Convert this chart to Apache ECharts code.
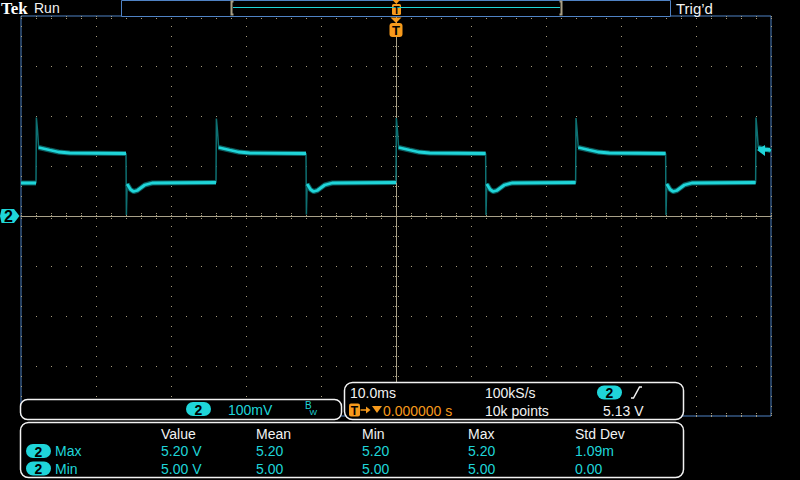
<!DOCTYPE html>
<html>
<head>
<meta charset="utf-8">
<title>CH2 ripple</title>
<script src="https://cdn.jsdelivr.net/npm/echarts@6/dist/echarts.min.js"></script>
<style>
  html, body { margin: 0; padding: 0; background: #000; }
  #chart { width: 800px; height: 480px; }
</style>
</head>
<body>
<div id="chart"></div>
<script>
// CH2 trace: time in ms, level in V (100 mV/div, 10 ms/div)
const traceTime = [
  -50, -48.0, -47.95, -47.8, -47.65, -46.2, -45.0, -43.5, -36.0,
  -35.95, -35.85, -35.4, -35.0, -34.5, -33.5, -32.5, -24.0,
  -23.95, -23.8, -23.65, -22.2, -21.0, -19.5, -12.0,
  -11.95, -11.85, -11.4, -11.0, -10.5, -9.5, -8.5, 0,
  0.05, 0.2, 0.35, 1.8, 3.0, 4.5, 11.95,
  12.0, 12.1, 12.55, 12.95, 13.45, 14.45, 15.45, 23.95,
  24.0, 24.15, 24.3, 25.75, 26.95, 28.45, 35.95,
  36.0, 36.1, 36.55, 36.95, 37.45, 38.45, 39.45, 47.95,
  48.0, 48.15, 48.3, 49.75, 50
];
const traceVolt = [
  5.066, 5.066, 5.197, 5.172, 5.137, 5.132, 5.128, 5.126, 5.125,
  5.002, 5.064, 5.053, 5.049, 5.051, 5.062, 5.066, 5.067,
  5.195, 5.170, 5.137, 5.132, 5.128, 5.126, 5.125,
  5.003, 5.064, 5.053, 5.049, 5.051, 5.062, 5.066, 5.067,
  5.196, 5.170, 5.137, 5.132, 5.128, 5.126, 5.125,
  5.002, 5.064, 5.053, 5.049, 5.051, 5.062, 5.066, 5.067,
  5.196, 5.170, 5.137, 5.132, 5.128, 5.126, 5.125,
  5.002, 5.064, 5.053, 5.049, 5.051, 5.062, 5.066, 5.067,
  5.197, 5.170, 5.137, 5.132, 5.131
];

// scope settings
const timeRange = [-50, 50];     // ms, 10 ms/div
const voltRange = [4.6, 5.4];    // V, 100 mV/div
const ch2Offset = 5.0;
const triggerLevel = 5.13;
const triggerPos = 0;
const infoTimebase = '10.0ms';
const infoTrigDelay = '0.000000 s';
const infoSampleRate = '100kS/s';
const infoRecord = '10k points';
const infoTrigLevel = '5.13 V';
const infoVScale = '100mV';

// measurement table
const measColumns = ['Value', 'Mean', 'Min', 'Max', 'Std Dev'];
const measRowLabels = ['Max', 'Min'];
const measMaxRow = ['5.20 V', '5.20', '5.20', '5.20', '1.09m'];
const measMinRow = ['5.00 V', '5.00', '5.00', '5.00', '0.00'];

const CYAN = '#1fd5d9';
const TEAL = '#0e7072';
const FRINGE = '#0b5c5e';
const TAN = '#a69b7e';
const CENTER = '#a8a088';
const BLUE = '#4f82c4';
const ORANGE = '#f79a1c';
const WHITE = '#f2f2f2';
const FONT = '"Liberation Sans", Arial, sans-serif';

const fullTrace = traceTime.map((t, i) => [t, traceVolt[i]]);
// flat parts are drawn bright, the fast edges stay dim like on the scope
const flatTrace = traceTime.map((t, i) =>
  traceVolt[i] >= 5.03 && traceVolt[i] <= 5.14 ? [t, traceVolt[i]] : [t, '-']
);

const edgeTick = (inside) => ({
  show: true, inside: inside, length: 3,
  lineStyle: { color: TAN, type: [1, 1] },
});
const edgeMinor = (n) => ({
  show: true, splitNumber: n, length: 3,
  lineStyle: { color: TAN, type: [1, 1] },
});
const baseX = {
  type: 'value', min: timeRange[0], max: timeRange[1], interval: 10,
  axisLabel: { show: false }, splitLine: { show: false },
};
const baseY = {
  type: 'value', min: voltRange[0], max: voltRange[1], interval: 0.1,
  axisLabel: { show: false }, splitLine: { show: false },
};

const option = {
  animation: false,
  backgroundColor: '#000',
  grid: {
    left: 21, right: 29, top: 16, bottom: 64,
    show: true, backgroundColor: '#000', borderColor: BLUE, borderWidth: 1,
  },
  xAxis: [
    {
      ...baseX, position: 'bottom',
      axisLine: { show: false },
      axisTick: edgeTick(true), minorTick: edgeMinor(5),
      splitLine: { show: true, lineStyle: { color: TAN, type: [1, 9] } },
    },
    { ...baseX, position: 'top', axisLine: { show: false }, axisTick: edgeTick(true), minorTick: edgeMinor(5) },
    // centre crosshair (horizontal)
    {
      ...baseX, position: 'bottom', offset: -200,
      axisLine: { show: true, lineStyle: { color: CENTER, width: 1 } },
      axisTick: edgeTick(true), minorTick: edgeMinor(5),
    },
    { ...baseX, position: 'bottom', offset: -200, axisLine: { show: false }, axisTick: edgeTick(false), minorTick: edgeMinor(5) },
  ],
  yAxis: [
    {
      ...baseY, position: 'left',
      axisLine: { show: false },
      axisTick: edgeTick(true), minorTick: edgeMinor(5),
      splitLine: { show: true, lineStyle: { color: TAN, type: [1, 14] } },
    },
    { ...baseY, position: 'right', axisLine: { show: false }, axisTick: edgeTick(true), minorTick: edgeMinor(5) },
    // centre crosshair (vertical)
    {
      ...baseY, position: 'left', offset: -375,
      axisLine: { show: true, lineStyle: { color: CENTER, width: 1 } },
      axisTick: edgeTick(true), minorTick: edgeMinor(5),
    },
    { ...baseY, position: 'left', offset: -375, axisLine: { show: false }, axisTick: edgeTick(false), minorTick: edgeMinor(5) },
  ],
  series: [
    {
      type: 'line', xAxisIndex: 0, yAxisIndex: 0, data: fullTrace,
      showSymbol: false, silent: true,
      lineStyle: { color: TEAL, width: 1.5 },
    },
    {
      type: 'line', xAxisIndex: 0, yAxisIndex: 0, data: flatTrace,
      showSymbol: false, silent: true, connectNulls: false,
      lineStyle: { color: FRINGE, width: 5 },
    },
    {
      type: 'line', xAxisIndex: 0, yAxisIndex: 0, data: flatTrace,
      showSymbol: false, silent: true, connectNulls: false,
      lineStyle: { color: CYAN, width: 2.8 },
    },
  ],
};

const chart = echarts.init(document.getElementById('chart'), null, { renderer: 'svg' });
chart.setOption(option);

// ---- screen furniture around the graticule ----
const gndY = chart.convertToPixel({ yAxisIndex: 0 }, ch2Offset);
const trigY = chart.convertToPixel({ yAxisIndex: 0 }, triggerLevel);
const trigX = chart.convertToPixel({ xAxisIndex: 0 }, triggerPos);

const overlay = [];
const text = (x, y, s, fill, font, align, vAlign) => overlay.push({
  type: 'text', x: x, y: y, z: 110,
  style: { text: s, fill: fill, font: font || ('14px ' + FONT), align: align || 'left', verticalAlign: vAlign || 'middle' },
});
const box = (x, y, w, h, r, fill, stroke, lw) => overlay.push({
  type: 'rect', z: 100,
  shape: { x: x, y: y, width: w, height: h, r: r },
  style: { fill: fill, stroke: stroke || null, lineWidth: lw || 1 },
});
const poly = (pts, fill) => overlay.push({ type: 'polygon', z: 105, shape: { points: pts }, style: { fill: fill } });
const pline = (pts, stroke, lw) => overlay.push({
  type: 'polyline', z: 105, shape: { points: pts }, style: { stroke: stroke, lineWidth: lw || 1, fill: null },
});
const pill = (x, y) => {
  box(x, y, 25, 14, 7, CYAN);
  text(x + 12.5, y + 7.5, '2', '#000', 'bold 14px ' + FONT, 'center');
};

// top status line
text(1, 0, 'Tek', '#fff', 'bold 17px "Liberation Serif", serif', 'left', 'top');
text(34, 8, 'Run', WHITE, '14px ' + FONT);
text(676, 8, 'Trig\u2019d', WHITE, '15px ' + FONT);
box(121.5, 0.5, 549, 16, 0, '#000', BLUE, 1);
pline([[233.5, 1.5], [231.5, 1.5], [231.5, 14.5], [233.5, 14.5]], '#a89f85', 2);
pline([[559.5, 1.5], [561.5, 1.5], [561.5, 14.5], [559.5, 14.5]], '#a89f85', 2);
pline([[233, 7.5], [560, 7.5]], CYAN, 1);
poly([[392.5, 0], [400, 0], [396.3, 4]], ORANGE);
box(392, 4, 9, 11, 1.5, ORANGE);
text(396.5, 10, 'T', '#000', 'bold 10px ' + FONT, 'center');

// trigger position marker
poly([[trigX - 5.5, 17.5], [trigX + 5.5, 17.5], [trigX, 23]], ORANGE);
box(trigX - 6.5, 23, 13, 14, 3, ORANGE);
text(trigX, 30.5, 'T', '#000', 'bold 13px ' + FONT, 'center');

// ch2 ground marker and trigger level arrow
poly([[0, gndY], [1.5, gndY - 7], [14, gndY - 7], [19.5, gndY], [14, gndY + 7], [1.5, gndY + 7]], CYAN);
text(8.5, gndY + 0.5, '2', '#000', 'bold 16px ' + FONT, 'center');
poly([[757, trigY - 1], [765, trigY - 6], [765, trigY - 3], [770, trigY - 3], [770, trigY + 0.5],
      [765, trigY + 0.5], [765, trigY + 5]], CYAN);

// channel readout box
box(20.5, 399.5, 321, 20, 7, '#000', WHITE, 1.5);
pill(186, 402);
text(228, 409.5, infoVScale, CYAN);
text(305, 405, 'B', CYAN, '10px ' + FONT);
text(309.5, 412, 'W', CYAN, '8px ' + FONT);

// horizontal / trigger readout box
box(344.5, 382.5, 339, 37, 8, '#000', WHITE, 1.5);
text(350, 393, infoTimebase, WHITE);
box(349, 403.5, 11, 13, 2, ORANGE);
text(354.5, 410.5, 'T', '#000', 'bold 12px ' + FONT, 'center');
pline([[360.5, 410], [367, 410]], ORANGE, 1.5);
poly([[366, 406.5], [370.5, 410], [366, 413.5]], ORANGE);
poly([[372, 406], [382, 406], [377, 413]], ORANGE);
text(383, 410.5, infoTrigDelay, ORANGE);
text(485, 393, infoSampleRate, WHITE);
text(485, 410.5, infoRecord, WHITE);
pill(597, 385.5);
pline([[631, 398], [633.5, 398], [639.5, 387], [642, 387]], WHITE, 1.5);
text(603, 410.5, infoTrigLevel, WHITE);

// measurement box
const colX = [161, 256, 362, 468, 575];
box(20.5, 422.5, 663, 55, 8, '#000', WHITE, 1.5);
measColumns.forEach((c, i) => text(colX[i], 433.5, c, WHITE));
[measMaxRow, measMinRow].forEach((row, r) => {
  const y = 451 + r * 17.5;
  pill(26, y - 7);
  text(55, y, measRowLabels[r], CYAN);
  row.forEach((v, i) => text(colX[i], y, v, CYAN));
});

chart.setOption({ graphic: { elements: overlay } });

window.addEventListener('resize', () => chart.resize());
</script>
</body>
</html>
